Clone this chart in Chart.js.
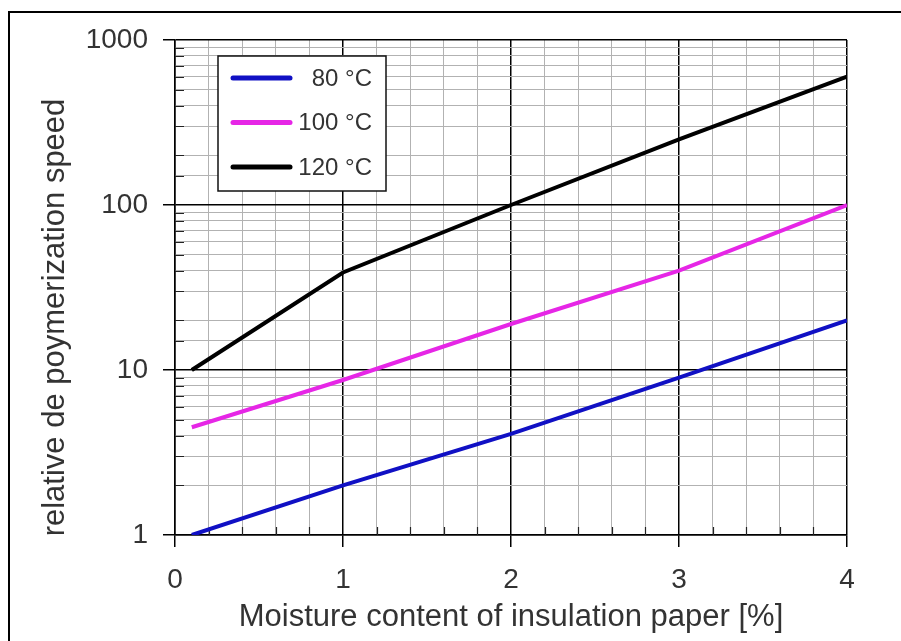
<!DOCTYPE html>
<html>
<head>
<meta charset="utf-8">
<script src="https://cdn.jsdelivr.net/npm/chart.js@4/dist/chart.umd.min.js"></script>
<style>
    html, body { margin: 0; padding: 0; background: #fff; }
    #wrap { position: relative; width: 901px; height: 641px; }
    #frame {
        position: absolute; left: 8px; top: 11px; right: 0; bottom: 0;
        border-left: 2px solid #000; border-top: 2px solid #000;
        pointer-events: none;
    }
</style>
</head>
<body>
<div id="wrap">
    <canvas id="poly-chart" width="901" height="641"></canvas>
    <div id="frame"></div>
</div>
<script>
const moisture = [0.1, 1, 2, 3, 4];       // water content [%]
const speed80 = [1, 2, 4.1, 9, 20];
const speed100 = [4.5, 8.7, 19, 40, 100];
const speed120 = [10, 39, 100, 250, 600];
const seriesLabels = ["80 °C", "100 °C", "120 °C"];
const seriesColors = ["#1010c4", "#e626e6", "#000000"];
const xTickLabels = ["0", "1", "2", "3", "4"];
const yTickLabels = ["1", "10", "100", "1000"];

const FONT = "'Liberation Sans', Arial, sans-serif";
const TEXT = "#333";

const isWhole = v => Math.abs(v - Math.round(v)) < 1e-6;
const isDecade = v => isWhole(Math.log10(v));

function points(ys) {
    return moisture.map((x, i) => ({ x: x, y: ys[i] }));
}

// inward minor ticks on left and bottom axis
const minorTicks = {
    id: "minorTicks",
    beforeDatasetsDraw(chart) {
        const { ctx, chartArea: a, scales } = chart;
        ctx.save();
        ctx.strokeStyle = "#222";
        ctx.lineWidth = 1.2;
        ctx.beginPath();
        scales.y.ticks.forEach(t => {
            if (isDecade(t.value)) return;
            const py = Math.round(scales.y.getPixelForValue(t.value)) + 0.5;
            ctx.moveTo(a.left, py);
            ctx.lineTo(a.left + 9, py);
        });
        scales.x.ticks.forEach(t => {
            if (isWhole(t.value)) return;
            const px = Math.round(scales.x.getPixelForValue(t.value)) + 0.5;
            ctx.moveTo(px, a.bottom);
            ctx.lineTo(px, a.bottom - 8);
        });
        ctx.stroke();
        ctx.restore();
    }
};

// boxed legend inside the plot, upper left
const boxLegend = {
    id: "boxLegend",
    afterDatasetsDraw(chart) {
        const { ctx, chartArea: a } = chart;
        const bx = a.left + 43, by = a.top + 16, bw = 168, bh = 135;
        ctx.save();
        ctx.fillStyle = "#fff";
        ctx.fillRect(bx, by, bw, bh);
        ctx.strokeStyle = "#111";
        ctx.lineWidth = 1.5;
        ctx.strokeRect(bx, by, bw, bh);
        ctx.font = "24px " + FONT;
        ctx.textAlign = "right";
        ctx.textBaseline = "middle";
        chart.data.datasets.forEach((ds, i) => {
            const ly = by + 22 + i * 44.5;
            ctx.strokeStyle = ds.borderColor;
            ctx.lineWidth = 5;
            ctx.lineCap = "round";
            ctx.beginPath();
            ctx.moveTo(bx + 15, ly);
            ctx.lineTo(bx + 72, ly);
            ctx.stroke();
            ctx.fillStyle = TEXT;
            ctx.fillText(ds.label, bx + 154, ly + 1);
        });
        ctx.restore();
    }
};

// rotated y axis title
const yTitle = {
    id: "yTitle",
    afterDraw(chart) {
        const { ctx, chartArea: a } = chart;
        ctx.save();
        ctx.translate(64, (a.top + a.bottom) / 2 + 30);
        ctx.rotate(-Math.PI / 2);
        ctx.font = "31px " + FONT;
        ctx.fillStyle = TEXT;
        ctx.textAlign = "center";
        ctx.textBaseline = "alphabetic";
        ctx.fillText("relative de poymerization speed", 0, 0);
        ctx.restore();
    }
};

new Chart(document.querySelector("#poly-chart"), {
    type: "line",
    data: {
        datasets: [speed80, speed100, speed120].map((ys, i) => ({
            label: seriesLabels[i],
            data: points(ys),
            borderColor: seriesColors[i],
            borderWidth: 4,
            pointRadius: 0,
            tension: 0,
            fill: false,
        })),
    },
    options: {
        responsive: false,
        animation: false,
        layout: { padding: { left: 0, top: 40, right: 54, bottom: 0 } },
        plugins: { legend: { display: false }, tooltip: { enabled: false } },
        scales: {
            x: {
                type: "linear",
                min: 0,
                max: 4,
                afterFit: s => { s.height = 106; },
                border: { color: "#000", width: 1.5 },
                grid: {
                    color: c => isWhole(c.tick.value) ? "#000" : "#b2b2b2",
                    lineWidth: c => isWhole(c.tick.value) ? 1.5 : 1,
                    tickColor: c => isWhole(c.tick.value) ? "#000" : "rgba(0,0,0,0)",
                    tickWidth: 1.5,
                    tickLength: 12,
                },
                ticks: {
                    stepSize: 0.2,
                    autoSkip: false,
                    maxRotation: 0,
                    padding: 16,
                    color: TEXT,
                    font: { family: FONT, size: 28 },
                    callback: v => isWhole(v) ? xTickLabels[Math.round(v)] : "",
                },
                title: {
                    display: true,
                    text: "Moisture content of insulation paper [%]",
                    color: TEXT,
                    font: { family: FONT, size: 31 },
                    padding: { top: 0, bottom: 5 },
                },
            },
            y: {
                type: "logarithmic",
                min: 1,
                max: 1000,
                afterFit: s => { s.width = 175; },
                border: { color: "#000", width: 1.5 },
                grid: {
                    color: c => isDecade(c.tick.value) ? "#000" : "#b2b2b2",
                    lineWidth: c => isDecade(c.tick.value) ? 1.5 : 1,
                    tickColor: c => isDecade(c.tick.value) ? "#000" : "rgba(0,0,0,0)",
                    tickWidth: 1.5,
                    tickLength: 12,
                },
                ticks: {
                    autoSkip: false,
                    padding: 15,
                    color: TEXT,
                    font: { family: FONT, size: 28 },
                    callback: v => isDecade(v) ? yTickLabels[Math.round(Math.log10(v))] : "",
                },
            },
        },
    },
    plugins: [minorTicks, boxLegend, yTitle],
});
</script>
</body>
</html>
